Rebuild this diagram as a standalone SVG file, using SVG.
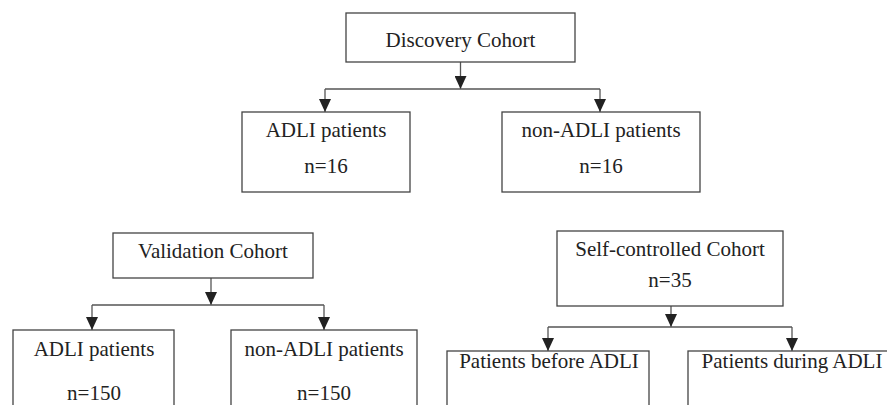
<svg xmlns="http://www.w3.org/2000/svg" width="887" height="405" viewBox="0 0 887 405">
<style>
.box{fill:#fff;stroke:#444;stroke-width:1.3}
.t{font-family:"Liberation Serif","Times New Roman",serif;font-size:21px;fill:#222;text-anchor:middle}
.ln{fill:none;stroke:#555;stroke-width:1.3}
</style>
<defs>
<marker id="ah" viewBox="0 0 13 12" refX="13" refY="6" markerWidth="13" markerHeight="12" markerUnits="userSpaceOnUse" orient="auto">
<path d="M0,0 L13,6 L0,12 Z" fill="#222"/>
</marker>
</defs>
<rect width="887" height="405" fill="#fff"/>
<g id="connectors">
<line class="ln" x1="460.5" y1="62" x2="460.5" y2="89" marker-end="url(#ah)"/>
<path class="ln" d="M325,89 H600"/>
<line class="ln" x1="325" y1="89" x2="325" y2="112" marker-end="url(#ah)"/>
<line class="ln" x1="600" y1="89" x2="600" y2="112" marker-end="url(#ah)"/>
<line class="ln" x1="211" y1="278" x2="211" y2="305" marker-end="url(#ah)"/>
<path class="ln" d="M92,305 H324"/>
<line class="ln" x1="92" y1="305" x2="92" y2="330" marker-end="url(#ah)"/>
<line class="ln" x1="324" y1="305" x2="324" y2="330" marker-end="url(#ah)"/>
<line class="ln" x1="671" y1="306" x2="671" y2="327" marker-end="url(#ah)"/>
<path class="ln" d="M548,327 H792"/>
<line class="ln" x1="548" y1="327" x2="548" y2="351" marker-end="url(#ah)"/>
<line class="ln" x1="792" y1="327" x2="792" y2="351" marker-end="url(#ah)"/>
</g>
<g id="discovery">
<rect class="box" x="346" y="13" width="229" height="49"/>
<text class="t" x="460.5" y="47">Discovery Cohort</text>
</g>
<g id="adli1">
<rect class="box" x="242" y="112" width="168" height="80"/>
<text class="t" x="326" y="137">ADLI patients</text>
<text class="t" x="326" y="173">n=16</text>
</g>
<g id="nonadli1">
<rect class="box" x="502" y="112" width="198" height="80"/>
<text class="t" x="601" y="137">non-ADLI patients</text>
<text class="t" x="601" y="173">n=16</text>
</g>
<g id="validation">
<rect class="box" x="113" y="233" width="200" height="45"/>
<text class="t" x="213" y="258">Validation Cohort</text>
</g>
<g id="adli2">
<rect class="box" x="13" y="330" width="161" height="90"/>
<text class="t" x="94" y="356">ADLI patients</text>
<text class="t" x="94" y="400">n=150</text>
</g>
<g id="nonadli2">
<rect class="box" x="231" y="330" width="186" height="90"/>
<text class="t" x="324" y="356">non-ADLI patients</text>
<text class="t" x="324" y="400">n=150</text>
</g>
<g id="selfcontrolled">
<rect class="box" x="557" y="231" width="226" height="75"/>
<text class="t" x="670" y="256">Self-controlled Cohort</text>
<text class="t" x="670" y="287">n=35</text>
</g>
<g id="before">
<rect class="box" x="447" y="351" width="202" height="70"/>
<text class="t" x="549" y="368">Patients before ADLI</text>
</g>
<g id="during">
<rect class="box" x="688" y="351" width="220" height="70"/>
<text class="t" x="792" y="368">Patients during ADLI</text>
</g>
</svg>
